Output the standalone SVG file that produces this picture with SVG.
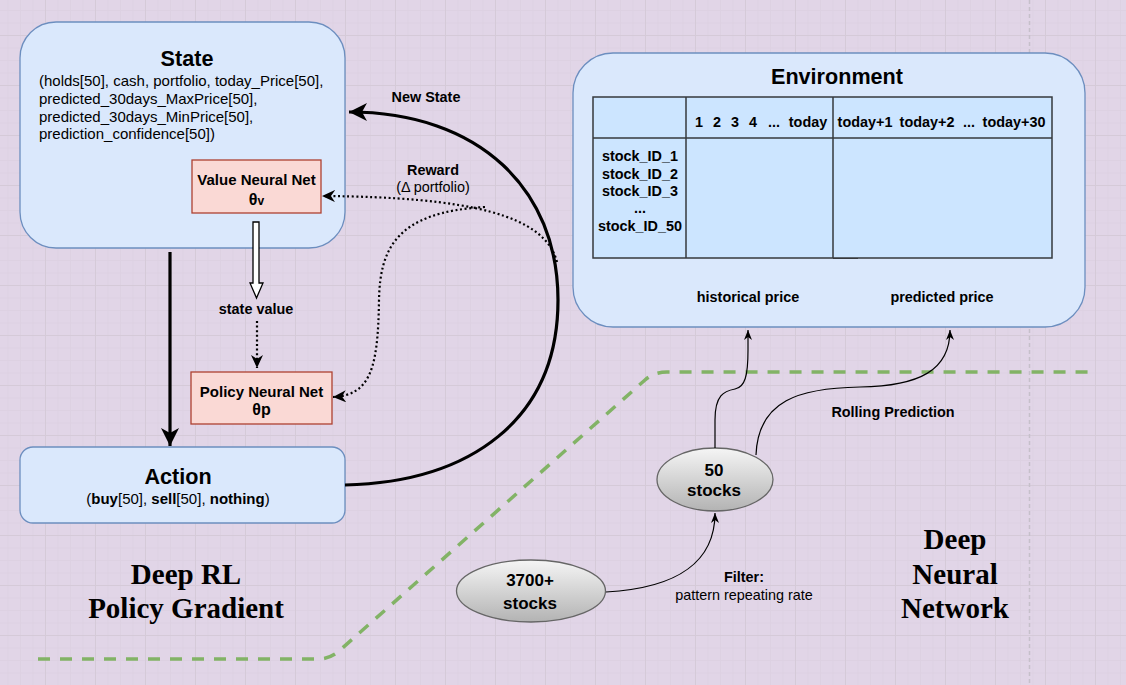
<svg xmlns="http://www.w3.org/2000/svg" width="1126" height="685" viewBox="0 0 1126 685">
<style>
  .sans { font-family: "Liberation Sans", Arial, Helvetica, sans-serif; fill: #000; }
  .b { font-weight: bold; }
  .mid { text-anchor: middle; }
  .t14 { font-size: 14.4px; }
  .t15 { font-size: 15px; }
  .title { font-size: 21.6px; font-weight: bold; }
  .serif { font-family: "Liberation Serif", "Times New Roman", serif; font-weight: bold; font-size: 29px; text-anchor: middle; fill: #000; }
  .blue { fill: #dae8fc; stroke: #6c8ebf; stroke-width: 1.3; }
  .red { fill: #fad9d5; stroke: #ae4132; stroke-width: 1.3; }
  .cell { fill: #cce5ff; stroke: #36393d; stroke-width: 1.5; }
  .ell { fill: url(#grey); stroke: #666; stroke-width: 1.3; }
  .thick { fill: none; stroke: #000; stroke-width: 3.2; }
  .dot { fill: none; stroke: #000; stroke-width: 2.2; stroke-dasharray: 2 2.6; }
  .thin { fill: none; stroke: #000; stroke-width: 1.2; }
</style>
<defs>
  <pattern id="minor" x="-5" y="-15" width="12.5" height="12.5" patternUnits="userSpaceOnUse">
    <path d="M0.5,0 V12.5 M0,0.5 H12.5" stroke="#ddd1e2" stroke-width="1" fill="none"/>
  </pattern>
  <pattern id="major" x="-5" y="-15" width="50" height="50" patternUnits="userSpaceOnUse">
    <path d="M0.5,0 V50 M0,0.5 H50" stroke="#d5cad8" stroke-width="1" fill="none"/>
  </pattern>
  <linearGradient id="grey" x1="0" y1="0" x2="0" y2="1">
    <stop offset="0" stop-color="#f5f5f5"/>
    <stop offset="1" stop-color="#b3b3b3"/>
  </linearGradient>
  <marker id="bigArrow" markerUnits="userSpaceOnUse" markerWidth="19" markerHeight="19" refX="18" refY="9" orient="auto">
    <path d="M0,0 L18,9 L0,18 L5,9 Z" fill="#000"/>
  </marker>
  <marker id="midArrow" markerUnits="userSpaceOnUse" markerWidth="14" markerHeight="13" refX="13" refY="6" orient="auto">
    <path d="M0,0 L13,6 L0,12 L4,6 Z" fill="#000"/>
  </marker>
  <marker id="smallArrow" markerUnits="userSpaceOnUse" markerWidth="11" markerHeight="9" refX="10" refY="4" orient="auto">
    <path d="M0,0 L10,4 L0,8 L3,4 Z" fill="#000"/>
  </marker>
</defs>

<rect x="0" y="0" width="1126" height="685" fill="#e1d5e7"/>
<rect x="0" y="0" width="1126" height="685" fill="url(#minor)"/>
<rect x="0" y="0" width="1126" height="685" fill="url(#major)"/>
<line x1="1029.5" y1="0" x2="1029.5" y2="685" stroke="#c6c0ca" stroke-width="1.5" stroke-dasharray="4 3"/>

<path d="M38,659 L318,659 Q330,659 339,651 L645,380 Q654,372 667,372 L1088,372" fill="none" stroke="#82b366" stroke-width="3.5" stroke-dasharray="12 10"/>

<g id="state">
  <rect class="blue" x="20" y="22" width="325" height="226" rx="36"/>
  <text class="sans title mid" x="187" y="66">State</text>
  <text class="sans t15" x="39" y="86">(holds[50], cash, portfolio, today_Price[50],</text>
  <text class="sans t15" x="39" y="104">predicted_30days_MaxPrice[50],</text>
  <text class="sans t15" x="39" y="122">predicted_30days_MinPrice[50],</text>
  <text class="sans t15" x="39" y="139">prediction_confidence[50])</text>
</g>

<g id="value-net">
  <rect class="red" x="192" y="160" width="129" height="53"/>
  <text class="sans b t15 mid" x="256.5" y="185">Value Neural Net</text>
  <text class="sans b mid" x="256.5" y="205" font-size="16">θ<tspan font-size="12">v</tspan></text>
</g>

<g id="policy-net">
  <rect class="red" x="191" y="372" width="141" height="52"/>
  <text class="sans b t15 mid" x="261.5" y="397">Policy Neural Net</text>
  <text class="sans b mid" x="261.5" y="415" font-size="16">θp</text>
</g>

<g id="action">
  <rect class="blue" x="20" y="447" width="325" height="76" rx="13"/>
  <text class="sans title mid" x="178" y="484">Action</text>
  <text class="sans t15 mid" x="178" y="504">(<tspan font-weight="bold">buy</tspan>[50], <tspan font-weight="bold">sell</tspan>[50], <tspan font-weight="bold">nothing</tspan>)</text>
</g>

<g id="environment">
  <rect class="blue" x="573" y="53" width="512" height="274" rx="40"/>
  <text class="sans title mid" x="837" y="84">Environment</text>
  <rect class="cell" x="593" y="97" width="459" height="161"/>
  <line x1="593" y1="138" x2="1052" y2="138" stroke="#36393d" stroke-width="1.5"/>
  <line x1="686" y1="97" x2="686" y2="258" stroke="#36393d" stroke-width="1.5"/>
  <line x1="833" y1="97" x2="833" y2="258" stroke="#36393d" stroke-width="1.5"/>
  <line x1="833" y1="258.5" x2="858" y2="258.5" stroke="#36393d" stroke-width="1"/>
  <g class="sans b t14 mid">
    <text x="699" y="127">1</text>
    <text x="717" y="127">2</text>
    <text x="735" y="127">3</text>
    <text x="753" y="127">4</text>
    <text x="774" y="127">...</text>
    <text x="808" y="127">today</text>
    <text x="865" y="127">today+1</text>
    <text x="927" y="127">today+2</text>
    <text x="969" y="127">...</text>
    <text x="1014" y="127">today+30</text>
    <text x="640" y="161">stock_ID_1</text>
    <text x="640" y="179">stock_ID_2</text>
    <text x="640" y="196">stock_ID_3</text>
    <text x="640" y="213">...</text>
    <text x="640" y="231">stock_ID_50</text>
    <text x="748" y="302">historical price</text>
    <text x="942" y="302">predicted price</text>
  </g>
</g>

<g id="stocks-50">
  <ellipse class="ell" cx="715" cy="479.5" rx="58" ry="31.5"/>
  <text class="sans b mid" font-size="17" x="714" y="476">50</text>
  <text class="sans b mid" font-size="17" x="714" y="496">stocks</text>
</g>

<g id="stocks-3700">
  <ellipse class="ell" cx="531" cy="591" rx="74.5" ry="31"/>
  <text class="sans b mid" font-size="17" x="530" y="586">3700+</text>
  <text class="sans b mid" font-size="17" x="530" y="609">stocks</text>
</g>

<g id="labels">
  <text class="serif" x="186" y="584">Deep RL</text>
  <text class="serif" x="186" y="618">Policy Gradient</text>
  <text class="serif" x="955" y="549">Deep</text>
  <text class="serif" x="955" y="584">Neural</text>
  <text class="serif" x="955" y="618">Network</text>
</g>

<g id="connectors">
  <line class="thick" x1="170" y1="252" x2="170" y2="446" marker-end="url(#bigArrow)"/>
  <path class="thick" d="M345,485 C470,482 558,420 558,300 C558,190 480,112 349,112" marker-end="url(#bigArrow)"/>
  <text class="sans b t14 mid" x="426" y="102">New State</text>

  <path d="M253,222 L259,222 L259,283 L263,283 L256.5,298 L250,283 L253,283 Z" fill="#fff" stroke="#000" stroke-width="1.3"/>
  <text class="sans b t14 mid" x="256" y="314">state value</text>
  <line class="dot" x1="257" y1="321" x2="257" y2="368" marker-end="url(#midArrow)"/>

  <path class="dot" d="M557,262 C545,215 470,197 322,196" marker-end="url(#midArrow)"/>
  <path class="dot" d="M485,207 C395,212 380,250 379,300 C378,370 370,395 333,397" marker-end="url(#midArrow)"/>
  <text class="sans b t14 mid" x="433" y="175">Reward</text>
  <text class="sans t14 mid" x="433" y="192">(Δ portfolio)</text>

  <path class="thin" d="M606,592 C680,588 715,560 715,513" marker-end="url(#smallArrow)"/>
  <text class="sans b t14 mid" x="744" y="582">Filter:</text>
  <text class="sans t14 mid" x="744" y="600">pattern repeating rate</text>

  <path class="thin" d="M715,448 L715,420 C715,395 724,391 735,389 C745,387 748,376 748,350 L748,330" marker-end="url(#smallArrow)"/>
  <path class="thin" d="M756,455 C758,400 800,388 860,387 C920,386 950,370 950,330" marker-end="url(#smallArrow)"/>
  <text class="sans b t14 mid" x="893" y="417">Rolling Prediction</text>
</g>
</svg>
